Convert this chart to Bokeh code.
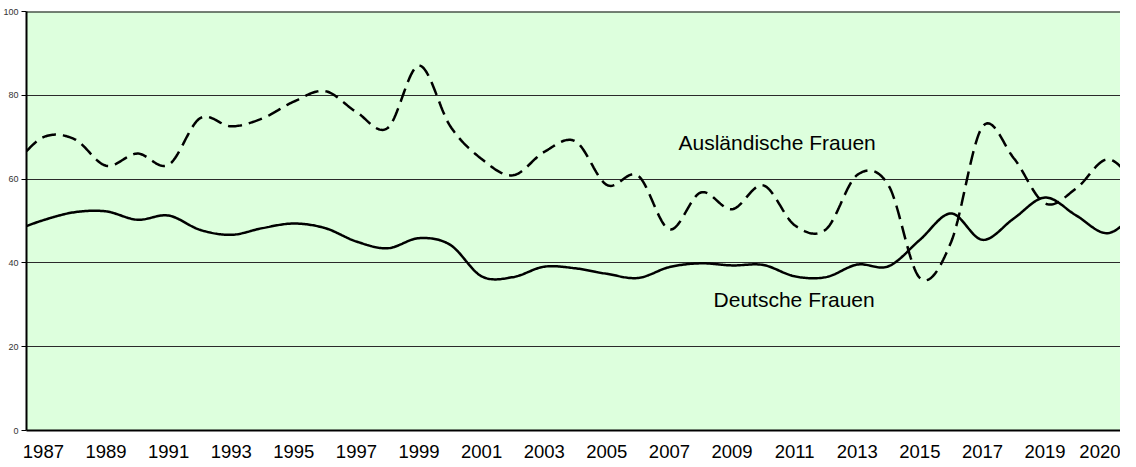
import numpy as np
from bokeh.plotting import figure
from bokeh.models import Range1d, FixedTicker, Span, Label
from bokeh.embed import file_html
from bokeh.resources import INLINE

# ---- data ----
years = list(range(1986, 2023))
auslaendische_frauen = [63.0, 70.0, 69.5, 63.2, 66.1, 63.4, 74.5, 72.6, 74.5, 78.5,
                        81.0, 76.0, 72.2, 87.1, 72.6, 64.8, 60.9, 66.5, 69.0, 58.6,
                        60.8, 48.0, 56.8, 52.8, 58.5, 49.0, 48.0, 61.0, 58.5, 36.4,
                        45.0, 72.5, 65.0, 54.2, 57.8, 64.7, 58.2]
deutsche_frauen = [47.5, 50.2, 52.1, 52.3, 50.3, 51.3, 47.9, 46.7, 48.3, 49.4,
                   48.3, 45.1, 43.5, 45.9, 44.3, 36.8, 36.6, 39.1, 38.7, 37.4,
                   36.4, 39.0, 39.9, 39.4, 39.5, 36.8, 36.6, 39.6, 39.2, 45.5,
                   51.8, 45.5, 50.6, 55.6, 51.3, 47.1, 52.5]
tick_years = [1987, 1989, 1991, 1993, 1995, 1997, 1999, 2001, 2003, 2005, 2007,
              2009, 2011, 2013, 2015, 2017, 2019, 2021]
tick_labels = ["1987", "1989", "1991", "1993", "1995", "1997", "1999", "2001", "2003",
               "2005", "2007", "2009", "2011", "2013", "2015", "2017", "2019", "2020"]
y_ticks = [0, 20, 40, 60, 80, 100]


def smooth(x, y, n=24):
    """Cubic Hermite (Catmull-Rom) curve through the data points."""
    x = np.asarray(x, float)
    y = np.asarray(y, float)
    m = np.gradient(y, x)
    xs, ys = [], []
    for i in range(len(x) - 1):
        h = x[i + 1] - x[i]
        t = np.linspace(0, 1, n, endpoint=False)
        h00 = 2 * t**3 - 3 * t**2 + 1
        h10 = t**3 - 2 * t**2 + t
        h01 = -2 * t**3 + 3 * t**2
        h11 = t**3 - t**2
        xs.extend(x[i] + t * h)
        ys.extend(h00 * y[i] + h10 * h * m[i] + h01 * y[i + 1] + h11 * h * m[i + 1])
    xs.append(x[-1])
    ys.append(y[-1])
    return xs, ys


FONT = "Liberation Sans"

p = figure(width=1120, height=460, output_backend="svg", toolbar_location=None,
           x_range=Range1d(1986.46, 2021.41), y_range=Range1d(0, 100),
           min_border_left=0, min_border_right=0, min_border_top=11, min_border_bottom=0)
p.background_fill_color = "#DDFFDD"
p.border_fill_color = "white"
p.outline_line_color = None

# x axis
p.xaxis.ticker = FixedTicker(ticks=tick_years)
p.xaxis.major_label_overrides = {y: l for y, l in zip(tick_years, tick_labels)}
p.xaxis.major_label_text_font = FONT
p.xaxis.major_label_text_font_size = "18.5px"
p.xaxis.major_label_text_color = "black"
p.xaxis.major_tick_out = 0
p.xaxis.major_tick_in = 0
p.xaxis.minor_tick_out = 0
p.xaxis.minor_tick_in = 0
p.xaxis.major_label_standoff = 14
p.xaxis.axis_line_color = "black"
p.xaxis.axis_line_width = 2

# y axis
p.yaxis.ticker = FixedTicker(ticks=y_ticks)
p.yaxis.major_label_text_font = FONT
p.yaxis.major_label_text_font_size = "9px"
p.yaxis.major_label_text_color = "#333333"
p.yaxis.major_tick_out = 5
p.yaxis.major_tick_in = 0
p.yaxis.minor_tick_out = 0
p.yaxis.minor_tick_in = 0
p.yaxis.major_label_standoff = 3
p.yaxis.axis_line_color = "black"
p.yaxis.axis_line_width = 2

# grid
p.xgrid.visible = False
p.ygrid.ticker = FixedTicker(ticks=[20, 40, 60, 80])
p.ygrid.grid_line_color = "#2a2a2a"
p.ygrid.grid_line_width = 1

p.add_layout(Span(location=100, dimension="width", line_color="black", line_width=2))

xa, ya = smooth(years, auslaendische_frauen)
xd, yd = smooth(years, deutsche_frauen)
p.line(xa, ya, line_color="black", line_width=2.5, line_dash="14 7")
p.line(xd, yd, line_color="black", line_width=2.5)

p.add_layout(Label(x=2007.29, y=68.8, text="Ausländische Frauen", text_font=FONT,
                   text_font_size="21px", text_color="black", text_baseline="alphabetic"))
p.add_layout(Label(x=2008.41, y=31.2, text="Deutsche Frauen", text_font=FONT,
                   text_font_size="21px", text_color="black", text_baseline="alphabetic"))

open("out.html", "w").write(file_html(p, INLINE))
